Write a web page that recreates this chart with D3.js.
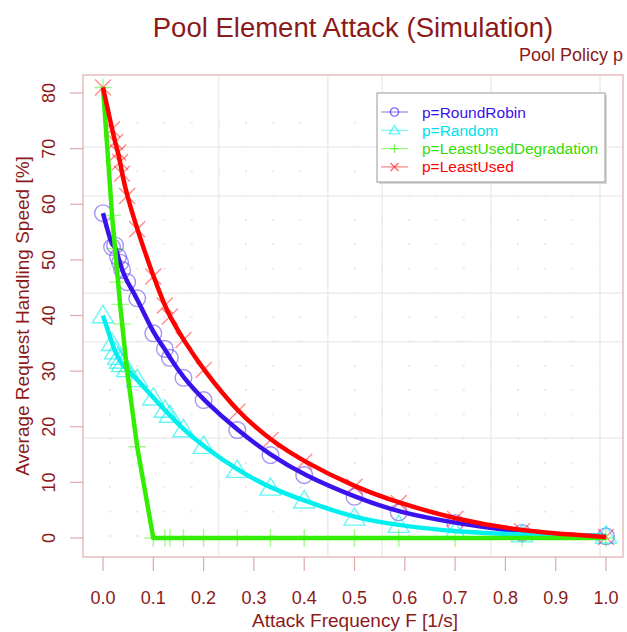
<!DOCTYPE html>
<html>
<head>
<meta charset="utf-8">
<script src="https://cdn.jsdelivr.net/npm/d3@7"></script>
<style>
  body { margin: 0; background: #fff; }
  text { font-family: "Liberation Sans", Arial, sans-serif; }
</style>
</head>
<body>
<script>
// attack frequency F [1/s], shared by all policies
var freq = [0, 0.018, 0.024, 0.03, 0.034, 0.038, 0.048, 0.068, 0.1, 0.123, 0.133, 0.16, 0.2, 0.267, 0.333, 0.4, 0.5, 0.588, 0.7, 0.833, 1.0];

// average request handling speed [%]
var roundRobin = [58.4, 52.3, 52.6, 50.5, 49.5, 48.2, 46.0, 43.1, 36.8, 34.0, 32.4, 28.8, 24.8, 19.4, 14.9, 11.3, 7.4, 4.6, 2.7, 0.9, 0.3];
var random = [40, 35, 33.5, 32.5, 31.8, 31.2, 30.3, 28.5, 25.2, 23, 22.1, 19.5, 16.5, 12.2, 9, 6.7, 3.6, 2.3, 1.1, 0.6, 0.4];
var leastUsedDeg = [81, 58, 52, 46, 42, 38.5, 30, 16.4, 0, 0, 0, 0, 0, 0, 0, 0, 0, 0, 0, 0, 0];
var leastUsed = [81, 73.5, 71.2, 69.3, 67.6, 65.5, 61.5, 55.5, 47, 41.8, 39.8, 35.6, 30.2, 22.7, 17.6, 13.7, 9.2, 6.3, 3.4, 1.2, 0.2];

var seriesNames = ["p=RoundRobin", "p=Random", "p=LeastUsedDegradation", "p=LeastUsed"];
var xTicks = [0, 0.1, 0.2, 0.3, 0.4, 0.5, 0.6, 0.7, 0.8, 0.9, 1.0];
var yTicks = [0, 10, 20, 30, 40, 50, 60, 70, 80];
var gridX = [0.23, 0.447, 0.555, 0.771, 0.988];
var gridY = [70.3, 61.5, 44.0, 35.3, 18.0];

var width = 627, height = 632;
var dark = "#8b1a1a";

var svg = d3.select("body").append("svg")
    .attr("width", width)
    .attr("height", height);

var x = d3.scaleLinear().domain([0, 1]).range([103, 606]);
var y = d3.scaleLinear().domain([0, 80]).range([538, 93]);

var box = {left: 83, top: 75, right: 623, bottom: 557};

// dotted minor grid
var minorX = d3.range(0, 19).map(function(k) { return 0.014 + 0.05408 * k; });
var minorY = d3.range(0, 18).map(function(k) { return 74.66 - 4.37 * k; });
var dots = [];
minorX.forEach(function(a) { minorY.forEach(function(b) { dots.push([a, b]); }); });
svg.append("g").selectAll("rect")
    .data(dots)
    .enter().append("rect")
    .attr("x", function(d) { return x(d[0]) - 1; })
    .attr("y", function(d) { return y(d[1]) - 1; })
    .attr("width", 2).attr("height", 2)
    .attr("fill", "#e8e8e8");

// major grid
svg.append("g").selectAll("line")
    .data(gridX)
    .enter().append("line")
    .attr("x1", function(d) { return x(d); }).attr("x2", function(d) { return x(d); })
    .attr("y1", box.top).attr("y2", box.bottom)
    .attr("stroke", "#ececec").attr("stroke-width", 1.5);
svg.append("g").selectAll("line")
    .data(gridY)
    .enter().append("line")
    .attr("y1", function(d) { return y(d); }).attr("y2", function(d) { return y(d); })
    .attr("x1", box.left).attr("x2", box.right)
    .attr("stroke", "#ececec").attr("stroke-width", 1.5);

// legend box
var lg = svg.append("g");
lg.append("rect")
    .attr("x", 379).attr("y", 95).attr("width", 228).attr("height", 89)
    .attr("fill", "#d8d8d8");
lg.append("rect")
    .attr("x", 377).attr("y", 93).attr("width", 228).attr("height", 89)
    .attr("fill", "#fff").attr("stroke", "#9a9a9a").attr("stroke-width", 1);

var series = [
    {name: seriesNames[0], values: roundRobin, color: "#3a12ec", text: "#3a12ec", mark: "circle", curve: d3.curveBasis},
    {name: seriesNames[1], values: random, color: "#00f0f0", text: "#00e0ea", mark: "triangle", curve: d3.curveBasis},
    {name: seriesNames[2], values: leastUsedDeg, color: "#33ee00", text: "#33dd00", mark: "plus", curve: d3.curveLinear},
    {name: seriesNames[3], values: leastUsed, color: "#ff0000", text: "#ff0000", mark: "cross", curve: d3.curveBasis}
];

function drawMark(sel, kind, color, size, op) {
    var s = size;
    if (kind === "circle") {
        sel.append("circle").attr("r", s * 0.52)
            .attr("fill", "none").attr("stroke", color).attr("stroke-opacity", op).attr("stroke-width", 1.4);
    } else if (kind === "triangle") {
        var h = s * 0.6;
        sel.append("path")
            .attr("d", "M0," + (-h * 1.05) + "L" + (h * 1.1) + "," + (h * 0.75) + "L" + (-h * 1.1) + "," + (h * 0.75) + "Z")
            .attr("fill", "none").attr("stroke", color).attr("stroke-opacity", op).attr("stroke-width", 1.4);
    } else if (kind === "plus") {
        var p = s * 0.55;
        sel.append("path")
            .attr("d", "M" + (-p) + ",0H" + p + "M0," + (-p) + "V" + p)
            .attr("stroke", color).attr("stroke-opacity", op).attr("stroke-width", 1.4);
    } else {
        var c = s * 0.5;
        sel.append("path")
            .attr("d", "M" + (-c) + "," + (-c) + "L" + c + "," + c + "M" + (-c) + "," + c + "L" + c + "," + (-c))
            .attr("stroke", color).attr("stroke-opacity", op).attr("stroke-width", 1.4);
    }
}

// markers
series.forEach(function(s) {
    var g = svg.append("g");
    s.values.forEach(function(v, i) {
        var m = g.append("g").attr("transform", "translate(" + x(freq[i]) + "," + y(v) + ")");
        drawMark(m, s.mark, s.color, 16, s.mark === "triangle" ? 0.6 : 0.45);
    });
});

// lines
series.forEach(function(s) {
    var line = d3.line()
        .x(function(d, i) { return x(freq[i]); })
        .y(function(d) { return y(d); })
        .curve(s.curve);
    svg.append("path")
        .datum(s.values)
        .attr("d", line)
        .attr("fill", "none")
        .attr("stroke", s.color)
        .attr("stroke-width", 4.5)
        .attr("stroke-linejoin", "round");
});

// legend entries
series.forEach(function(s, i) {
    var ly = 112 + i * 18.3;
    lg.append("line")
        .attr("x1", 381).attr("x2", 408).attr("y1", ly).attr("y2", ly)
        .attr("stroke", s.color).attr("stroke-opacity", 0.5).attr("stroke-width", 1.2);
    var m = lg.append("g").attr("transform", "translate(394.5," + ly + ")");
    drawMark(m, s.mark, s.color, 8, 0.6);
    lg.append("text")
        .attr("x", 422).attr("y", ly)
        .attr("dy", ".36em")
        .attr("fill", s.text)
        .style("font-size", "15.5px")
        .style("font-weight", "500")
        .text(s.name);
});
lg.raise();

// plot box
svg.append("rect")
    .attr("x", box.left).attr("y", box.top)
    .attr("width", box.right - box.left).attr("height", box.bottom - box.top)
    .attr("fill", "none").attr("stroke", "#e6bcbc").attr("stroke-width", 1.5);

// x axis
var xa = svg.append("g");
xa.selectAll("line").data(xTicks).enter().append("line")
    .attr("x1", function(d) { return x(d); }).attr("x2", function(d) { return x(d); })
    .attr("y1", box.bottom).attr("y2", box.bottom + 14)
    .attr("stroke", "#dcaaaa").attr("stroke-width", 1.2);
xa.selectAll("text").data(xTicks).enter().append("text")
    .attr("x", function(d) { return x(d); })
    .attr("y", 604)
    .attr("text-anchor", "middle")
    .attr("fill", dark)
    .style("font-size", "18px")
    .text(function(d) { return d3.format(".1f")(d); });

// y axis
var ya = svg.append("g");
ya.selectAll("line").data(yTicks).enter().append("line")
    .attr("y1", function(d) { return y(d); }).attr("y2", function(d) { return y(d); })
    .attr("x1", 70).attr("x2", box.left)
    .attr("stroke", "#dcaaaa").attr("stroke-width", 1.2);
ya.selectAll("text").data(yTicks).enter().append("text")
    .attr("transform", function(d) { return "translate(49," + y(d) + ") rotate(-90)"; })
    .attr("dy", ".35em")
    .attr("text-anchor", "middle")
    .attr("fill", dark)
    .style("font-size", "18px")
    .text(function(d) { return d; });

// titles
svg.append("text")
    .attr("x", 353).attr("y", 37)
    .attr("text-anchor", "middle")
    .attr("fill", dark)
    .style("font-size", "27.5px")
    .text("Pool Element Attack (Simulation)");
svg.append("text")
    .attr("x", 623).attr("y", 61)
    .attr("text-anchor", "end")
    .attr("fill", dark)
    .style("font-size", "18px")
    .text("Pool Policy p");
svg.append("text")
    .attr("x", 355).attr("y", 627)
    .attr("text-anchor", "middle")
    .attr("fill", dark)
    .style("font-size", "19px")
    .text("Attack Frequency F [1/s]");
svg.append("text")
    .attr("transform", "translate(22,316) rotate(-90)")
    .attr("dy", ".35em")
    .attr("text-anchor", "middle")
    .attr("fill", dark)
    .style("font-size", "19px")
    .text("Average Request Handling Speed [%]");
</script>
</body>
</html>
